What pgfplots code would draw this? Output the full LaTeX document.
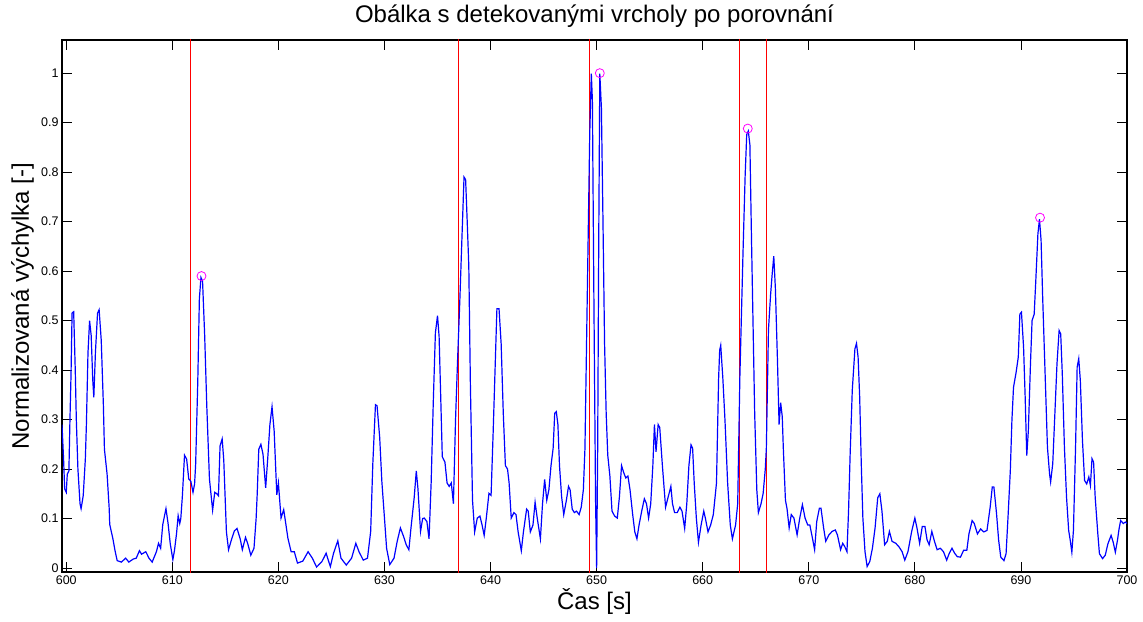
\documentclass[border=0pt]{standalone}
\usepackage{fontspec}
\setmainfont{Liberation Sans}
\usepackage{pgfplots}
\pgfplotsset{compat=1.18}
\usetikzlibrary{calc}
\definecolor{mred}{RGB}{255,0,0}
\definecolor{mblue}{RGB}{0,0,255}
\definecolor{mmag}{RGB}{255,0,255}
\begin{document}
\begin{tikzpicture}
\begin{axis}[
  scale only axis,
  width=1065pt, height=532pt,
  xmin=599.6, xmax=700, ymin=-0.008, ymax=1.067,
  xtick={600,610,...,700},
  ytick={0,0.1,0.2,0.3,0.4,0.5,0.6,0.7,0.8,0.9,1},
  yticklabels={0,0.1,0.2,0.3,0.4,0.5,0.6,0.7,0.8,0.9,1},
  tick align=inside, tick pos=both,
  major tick length=10pt,
  tick style={black, line width=0.8pt},
  axis line style={line width=1.3pt},
  ticklabel style={font=\fontsize{12.5}{14}\selectfont},
  /pgf/number format/assume math mode=true,
  /pgf/number format/set thousands separator={},
  title={Obálka s detekovanými vrcholy po porovnání},
  title style={font=\fontsize{24}{28}\selectfont, at={(axis description cs:0.5,1.0216)}, anchor=base},
  xlabel={Čas [s]},
  xlabel style={font=\fontsize{24}{28}\selectfont, at={(axis description cs:0.5,-0.0714)}, anchor=base},
  ylabel={Normalizovaná výchylka [-]},
  ylabel style={font=\fontsize{24}{28}\selectfont, at={(axis description cs:-0.031,0.5)}, anchor=base, rotate=0},
  clip=true,
]
% red vertical lines
\addplot[color=mred, line width=1pt] coordinates {(611.71,-0.01) (611.71,1.08)};
\addplot[color=mred, line width=1pt] coordinates {(636.98,-0.01) (636.98,1.08)};
\addplot[color=mred, line width=1pt] coordinates {(649.33,-0.01) (649.33,1.08)};
\addplot[color=mred, line width=1pt] coordinates {(663.47,-0.01) (663.47,1.08)};
\addplot[color=mred, line width=1pt] coordinates {(666.02,-0.01) (666.02,1.08)};
% envelope
\addplot[color=mblue, line width=1.2pt] coordinates {
(599.6,0.29) (599.75,0.22) (599.85,0.16) (600.0,0.153) (600.1,0.19) (600.25,0.196) (600.35,0.30) (600.45,0.39) (600.55,0.515) (600.7,0.518)
(600.85,0.40) (600.95,0.30) (601.1,0.20) (601.3,0.13) (601.4,0.12) (601.6,0.146) (601.8,0.22) (601.9,0.29) (602.05,0.435) (602.2,0.50)
(602.35,0.47) (602.5,0.38) (602.6,0.345) (602.75,0.435) (602.95,0.515) (603.1,0.522) (603.3,0.46) (603.5,0.33) (603.6,0.24) (603.85,0.19)
(604.05,0.12) (604.1,0.088) (604.4,0.059) (604.6,0.035) (604.8,0.015) (605.2,0.012) (605.6,0.02) (605.9,0.012) (606.3,0.018) (606.6,0.02)
(606.9,0.035) (607.1,0.028) (607.5,0.033) (607.8,0.02) (608.1,0.012) (608.5,0.033) (608.7,0.05) (608.9,0.04) (609.1,0.088) (609.4,0.12)
(609.6,0.09) (609.8,0.05) (610.05,0.017) (610.2,0.035) (610.4,0.07) (610.55,0.106) (610.7,0.09) (610.8,0.1) (610.95,0.146) (611.15,0.228)
(611.35,0.22) (611.55,0.18) (611.75,0.175) (611.95,0.153) (612.1,0.17) (612.2,0.21) (612.4,0.377) (612.55,0.544) (612.7,0.587) (612.85,0.58)
(613.05,0.47) (613.25,0.327) (613.5,0.18) (613.8,0.117) (614.0,0.153) (614.2,0.15) (614.35,0.146) (614.5,0.247) (614.7,0.261) (614.85,0.218)
(615.1,0.073) (615.3,0.037) (615.6,0.059) (615.85,0.075) (616.1,0.08) (616.4,0.059) (616.6,0.037) (616.9,0.062) (617.1,0.05) (617.4,0.026)
(617.7,0.04) (617.9,0.1) (618.0,0.148) (618.15,0.24) (618.35,0.25) (618.55,0.23) (618.8,0.162) (619.0,0.223) (619.2,0.29) (619.4,0.326)
(619.6,0.277) (619.85,0.148) (620.0,0.172) (620.25,0.101) (620.5,0.118) (620.9,0.06) (621.2,0.033) (621.5,0.033) (621.8,0.01) (622.3,0.014)
(622.8,0.033) (623.2,0.02) (623.6,0.002) (624.1,0.013) (624.5,0.03) (624.7,0.016) (624.9,0.003) (625.2,0.03) (625.6,0.055) (625.9,0.02)
(626.4,0.006) (626.9,0.02) (627.3,0.05) (627.6,0.033) (628.0,0.016) (628.4,0.02) (628.7,0.074) (628.9,0.21) (629.15,0.33) (629.3,0.328)
(629.55,0.264) (629.75,0.176) (630.0,0.101) (630.2,0.04) (630.5,0.007) (630.9,0.02) (631.2,0.054) (631.5,0.081) (631.8,0.064) (632.05,0.047)
(632.3,0.037) (632.5,0.081) (632.8,0.142) (633.0,0.196) (633.15,0.162) (633.4,0.074) (633.6,0.1) (633.75,0.101) (634.0,0.094) (634.2,0.059)
(634.4,0.172) (634.6,0.334) (634.8,0.475) (635.0,0.51) (635.15,0.468) (635.3,0.348) (635.45,0.225) (635.7,0.214) (635.9,0.172) (636.1,0.165)
(636.3,0.172) (636.5,0.13) (636.7,0.3) (636.9,0.425) (637.1,0.538) (637.3,0.665) (637.5,0.79) (637.65,0.785) (637.8,0.7) (637.95,0.61)
(638.1,0.37) (638.3,0.137) (638.5,0.073) (638.75,0.101) (639.0,0.105) (639.2,0.087) (639.4,0.066) (639.6,0.101) (639.85,0.151) (640.05,0.147)
(640.25,0.277) (640.45,0.418) (640.6,0.524) (640.8,0.524) (641.0,0.453) (641.2,0.313) (641.4,0.207) (641.6,0.2) (641.75,0.172) (641.95,0.101)
(642.2,0.112) (642.4,0.108) (642.6,0.073) (642.9,0.035) (643.1,0.073) (643.4,0.119) (643.55,0.115) (643.75,0.073) (644.0,0.087) (644.2,0.133)
(644.4,0.101) (644.7,0.059) (644.9,0.13) (645.1,0.179) (645.3,0.137) (645.5,0.158) (645.7,0.207) (645.9,0.242) (646.05,0.313) (646.2,0.316)
(646.35,0.29) (646.5,0.207) (646.7,0.144) (646.9,0.108) (647.15,0.137) (647.35,0.165) (647.5,0.158) (647.7,0.119) (647.9,0.112) (648.1,0.115)
(648.35,0.108) (648.55,0.123) (648.75,0.158) (648.9,0.242) (649.05,0.453) (649.2,0.665) (649.35,0.876) (649.5,0.999) (649.6,0.946) (649.75,0.524)
(649.9,0.137) (650.0,0.0) (650.1,0.242) (650.2,0.665) (650.3,0.999) (650.45,0.93) (650.6,0.7) (650.75,0.453) (650.9,0.313) (651.05,0.228)
(651.25,0.186) (651.45,0.115) (651.7,0.105) (651.95,0.101) (652.15,0.144) (652.35,0.207) (652.55,0.193) (652.75,0.182) (652.95,0.186) (653.15,0.158)
(653.4,0.108) (653.6,0.073) (653.8,0.059) (654.0,0.087) (654.25,0.115) (654.5,0.14) (654.7,0.13) (654.9,0.101) (655.1,0.13) (655.3,0.207)
(655.45,0.29) (655.6,0.235) (655.8,0.29) (655.95,0.284) (656.2,0.207) (656.35,0.165) (656.5,0.123) (656.75,0.144) (657.0,0.165) (657.15,0.13)
(657.35,0.112) (657.6,0.112) (657.85,0.123) (658.05,0.115) (658.3,0.08) (658.5,0.13) (658.7,0.207) (658.9,0.249) (659.05,0.242) (659.2,0.172)
(659.4,0.101) (659.6,0.052) (659.85,0.087) (660.1,0.115) (660.25,0.101) (660.5,0.073) (660.75,0.087) (661.0,0.108) (661.3,0.172) (661.5,0.383)
(661.6,0.44) (661.7,0.45) (661.9,0.383) (662.1,0.299) (662.35,0.172) (662.6,0.087) (662.8,0.059) (663.1,0.087) (663.3,0.13) (663.5,0.383)
(663.8,0.637) (664.0,0.792) (664.15,0.876) (664.3,0.883) (664.45,0.855) (664.6,0.665) (664.75,0.489) (664.9,0.313) (665.1,0.158) (665.25,0.112)
(665.5,0.13) (665.7,0.151) (665.9,0.2) (666.0,0.242) (666.2,0.482) (666.4,0.552) (666.55,0.594) (666.7,0.63) (666.85,0.566) (667.05,0.418)
(667.2,0.29) (667.35,0.334) (667.5,0.306) (667.6,0.242) (667.8,0.137) (667.95,0.12) (668.15,0.081) (668.35,0.108) (668.6,0.101) (668.9,0.067)
(669.15,0.101) (669.4,0.128) (669.65,0.101) (669.9,0.087) (670.1,0.087) (670.35,0.06) (670.55,0.037) (670.75,0.094) (671.0,0.121) (671.15,0.121)
(671.4,0.081) (671.6,0.054) (671.9,0.067) (672.2,0.074) (672.5,0.077) (672.7,0.067) (673.0,0.037) (673.2,0.05) (673.4,0.043) (673.6,0.033)
(673.75,0.115) (673.9,0.23) (674.1,0.359) (674.35,0.443) (674.5,0.454) (674.65,0.426) (674.8,0.345) (674.95,0.21) (675.1,0.101) (675.3,0.033)
(675.5,0.003) (675.75,0.013) (676.0,0.04) (676.25,0.081) (676.5,0.142) (676.7,0.15) (676.9,0.115) (677.15,0.047) (677.4,0.054) (677.6,0.074)
(677.85,0.054) (678.2,0.05) (678.5,0.043) (678.8,0.033) (679.05,0.016) (679.35,0.033) (679.7,0.074) (680.0,0.101) (680.2,0.081) (680.45,0.05)
(680.7,0.084) (680.95,0.084) (681.15,0.057) (681.35,0.047) (681.6,0.074) (681.85,0.054) (682.1,0.037) (682.4,0.04) (682.7,0.033) (683.0,0.016)
(683.25,0.03) (683.5,0.04) (683.75,0.03) (684.0,0.023) (684.3,0.022) (684.6,0.036) (684.9,0.036) (685.1,0.069) (685.4,0.096) (685.6,0.09)
(685.9,0.069) (686.2,0.079) (686.5,0.073) (686.8,0.076) (687.1,0.123) (687.3,0.164) (687.45,0.164) (687.7,0.11) (687.9,0.056) (688.1,0.022)
(688.4,0.015) (688.6,0.029) (688.8,0.11) (689.0,0.197) (689.15,0.298) (689.3,0.365) (689.55,0.396) (689.75,0.426) (689.9,0.513) (690.05,0.517)
(690.25,0.446) (690.4,0.345) (690.55,0.227) (690.7,0.278) (690.9,0.413) (691.05,0.5) (691.25,0.513) (691.4,0.58) (691.6,0.675) (691.75,0.705)
(691.9,0.662) (692.05,0.547) (692.2,0.446) (692.35,0.345) (692.5,0.244) (692.7,0.19) (692.8,0.174) (693.0,0.211) (693.2,0.312) (693.4,0.413)
(693.6,0.48) (693.75,0.473) (693.9,0.392) (694.1,0.244) (694.3,0.143) (694.5,0.076) (694.65,0.056) (694.8,0.032) (694.95,0.076) (695.15,0.244)
(695.3,0.406) (695.45,0.423) (695.6,0.379) (695.8,0.258) (696.0,0.177) (696.2,0.17) (696.4,0.184) (696.55,0.167) (696.7,0.221) (696.85,0.214)
(697.0,0.143) (697.25,0.069) (697.4,0.029) (697.7,0.019) (697.95,0.026) (698.2,0.049) (698.5,0.066) (698.7,0.052) (698.9,0.032) (699.1,0.056)
(699.25,0.079) (699.4,0.096) (699.65,0.09) (699.85,0.093) (700.0,0.09)
};
% detected peaks
\addplot[only marks, mark=o, mark size=4.5pt, color=mmag, mark options={line width=0.8pt}] coordinates {
(612.75,0.59) (650.3,1.0) (664.25,0.888) (691.8,0.708)
};
\end{axis}
\pgfresetboundingbox
\path ($(current axis.south west)+(-62pt,-49pt)$) rectangle ($(current axis.north east)+(16pt,40pt)$);
\end{tikzpicture}
\end{document}
